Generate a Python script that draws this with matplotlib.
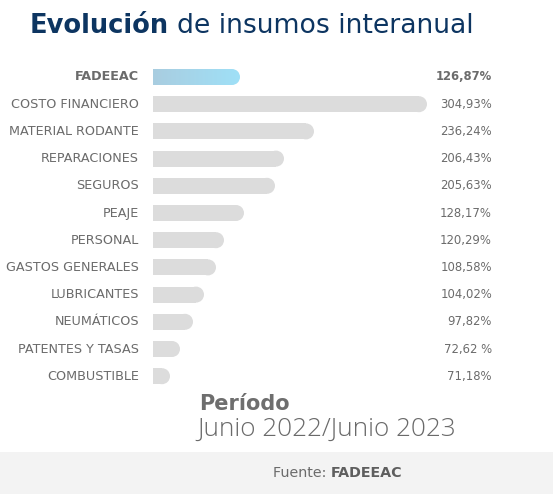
import numpy as np
import matplotlib
matplotlib.use('Agg')
import matplotlib.pyplot as plt
from matplotlib.patches import Circle, Rectangle, PathPatch
from matplotlib.path import Path

categories = ['FADEEAC', 'COSTO FINANCIERO', 'MATERIAL RODANTE', 'REPARACIONES',
              'SEGUROS', 'PEAJE', 'PERSONAL', 'GASTOS GENERALES', 'LUBRICANTES',
              'NEUMÁTICOS', 'PATENTES Y TASAS', 'COMBUSTIBLE']
value_labels = ['126,87%', '304,93%', '236,24%', '206,43%', '205,63%', '128,17%',
                '120,29%', '108,58%', '104,02%', '97,82%', '72,62 %', '71,18%']
# bar lengths as drawn in the picture (not proportional to the labels)
bar_lengths = [87, 274, 161, 131, 122, 91, 71, 63, 51, 40, 27, 17]

W, H = 553, 494
fig = plt.figure(figsize=(W / 100, H / 100), dpi=100)
fig.patch.set_facecolor('white')
ax = fig.add_axes([0, 0, 1, 1])
ax.set_xlim(0, W)
ax.set_ylim(H, 0)
ax.axis('off')

navy = '#0d3561'
grey_txt = '#6b6b6b'
bar_grey = '#dcdcdc'

# title
t1 = ax.text(30, 33, 'Evolución', fontsize=18.5, fontweight='bold', color=navy,
             va='baseline')
fig.canvas.draw()
x_end = ax.transData.inverted().transform((t1.get_window_extent().x1, 0))[0]
ax.text(x_end + 8, 33, 'de insumos interanual', fontsize=19.2, color=navy,
        va='baseline')

x0 = 153
bh = 16
y_first = 77
step = 27.2
ys = y_first + step * np.arange(len(categories))

for i, (cat, lab, ln) in enumerate(zip(categories, value_labels, bar_lengths)):
    y = ys[i]
    bold = 'bold' if i == 0 else 'normal'
    ax.text(139, y, cat, fontsize=9.2, color=grey_txt, ha='right', va='center',
            fontweight=bold)
    ax.text(492, y, lab, fontsize=8.4, color=grey_txt, ha='right', va='center',
            fontweight=bold)
    r = bh / 2
    if i == 0:
        grad = np.linspace(0, 1, 256).reshape(1, -1)
        cmap = matplotlib.colors.LinearSegmentedColormap.from_list(
            'fb', ['#a9cde0', '#9fe0f7'])
        im = ax.imshow(grad, extent=[x0, x0 + ln, y + r, y - r], cmap=cmap,
                       aspect='auto', zorder=2)
        rect = Rectangle((x0, y - r), ln - r, bh)
        circ = Circle((x0 + ln - r, y), r)
        clip = Path.make_compound_path(
            rect.get_path().transformed(rect.get_patch_transform()),
            circ.get_path().transformed(circ.get_patch_transform()))
        cp = PathPatch(clip, transform=ax.transData, facecolor='none', edgecolor='none')
        ax.add_patch(cp)
        im.set_clip_path(cp)
    else:
        ax.barh(y, ln - r, left=x0, height=bh, color=bar_grey, zorder=2)
        ax.add_patch(Circle((x0 + ln - r, y), r, color=bar_grey, zorder=2, lw=0))

# period text
ax.text(199, 410, 'Período', fontsize=15, fontweight='bold', color='#6e6e6e',
        va='baseline')
ax.text(197, 436, 'Junio 2022/Junio 2023', fontsize=18.8, color='#6a6a6a',
        va='baseline', family='Open Sans', fontweight='light')

# footer band
ax.add_patch(Rectangle((0, 452), W, H - 452, color='#f3f3f3', zorder=0, lw=0))
t2 = ax.text(273, 473, 'Fuente: ', fontsize=10.3, color=grey_txt, va='center')
fig.canvas.draw()
xf = ax.transData.inverted().transform((t2.get_window_extent().x1, 0))[0]
ax.text(xf, 473, 'FADEEAC', fontsize=10.3, color='#5e5e5e', va='center',
        fontweight='bold')

fig.savefig('out.png', dpi=100)
